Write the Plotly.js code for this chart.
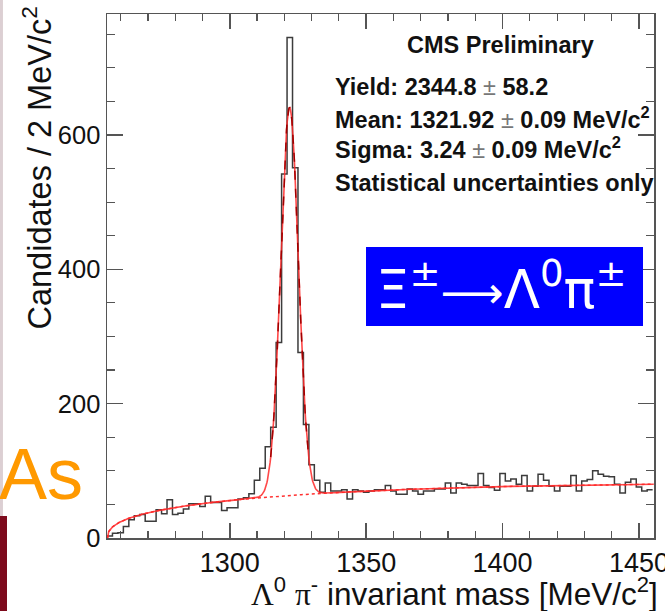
<!DOCTYPE html>
<html>
<head>
<meta charset="utf-8">
<script src="https://cdn.plot.ly/plotly-3.0.1.min.js"></script>
<style>html,body{margin:0;padding:0;background:#fff;}</style>
</head>
<body>
<div id="chart" style="width:665px;height:611px;"></div>
<script>
// Λπ invariant-mass histogram, 2 MeV/c² bins starting at 1255 MeV/c²
const binLow = 1255;
const binWidth = 2;
const counts = [
  3, 7, 8, 17, 27, 33, 35, 25, 25, 42,
  36, 57, 35, 37, 43, 51, 51, 47, 62, 53,
  53, 41, 45, 45, 58, 60, 66, 86, 104, 136,
  165, 291, 542, 745, 551, 276, 169, 109, 86, 68,
  82, 70, 70, 72, 58, 72, 70, 68, 70, 72,
  72, 78, 70, 65, 65, 73, 70, 65, 70, 70,
  73, 73, 82, 67, 82, 80, 78, 78, 96, 78,
  75, 71, 96, 85, 88, 80, 93, 70, 77, 95,
  86, 77, 70, 77, 77, 93, 70, 85, 87, 100,
  95, 92, 91, 80, 67, 83, 88, 76, 70, 72
];

// Fit result: Gaussian signal + threshold background
const fitYield = 2344.8;
const fitMean = 1321.92;
const fitSigma = 3.24;
const massThreshold = 1255.2;
const bkgNorm = 12.97;
const bkgPower = 0.4024;
const bkgSlope = 0.00156;

const massMin = 1255, massMax = 1455.5;

function background(m) {
  const d = m - massThreshold;
  if (d <= 0) return 0;
  return bkgNorm * Math.pow(d, bkgPower) * Math.exp(-bkgSlope * d);
}
function signal(m) {
  const z = (m - fitMean) / fitSigma;
  return fitYield * binWidth / (Math.sqrt(2 * Math.PI) * fitSigma) * Math.exp(-0.5 * z * z);
}

// histogram outline as a step line over bin edges
const edges = counts.map((_, i) => binLow + i * binWidth);
edges.push(binLow + counts.length * binWidth);
const stepY = counts.concat([counts[counts.length - 1]]);

const fitX = [], fitTotal = [], fitBkg = [];
for (let m = massThreshold; m <= massMax + 1e-9; m += 0.2) {
  fitX.push(m);
  fitBkg.push(background(m));
  fitTotal.push(background(m) + signal(m));
}
const peakX = [], peakY = [];
fitX.forEach((m, i) => { if (m >= 1315 && m <= 1329) { peakX.push(m); peakY.push(fitTotal[i]); } });

const traces = [
  { x: edges, y: stepY, type: 'scatter', mode: 'lines',
    line: { shape: 'hv', color: '#3c3c3c', width: 1.5 }, hoverinfo: 'skip' },
  { x: fitX, y: fitBkg, type: 'scatter', mode: 'lines',
    line: { color: '#ff3030', width: 1.5, dash: 'dot' }, hoverinfo: 'skip' },
  { x: fitX, y: fitTotal, type: 'scatter', mode: 'lines',
    line: { color: 'rgba(255,40,40,0.85)', width: 1.6 }, hoverinfo: 'skip' },
  { x: peakX, y: peakY, type: 'scatter', mode: 'lines',
    line: { color: '#a00000', width: 1.5, dash: 'dash' }, hoverinfo: 'skip' }
];

const axisCommon = {
  showline: true, linecolor: '#555', linewidth: 1.5, mirror: 'allticks',
  ticks: 'inside', tickcolor: '#555', tickwidth: 1.5,
  showgrid: false, zeroline: false, ticklabeloverflow: 'allow'
};

const txtFont = { family: 'Liberation Sans, Arial, sans-serif', size: 23.5, color: '#111' };
const pm = '<span style="font-weight:normal;color:#777">±</span>';

const layout = {
  width: 665, height: 611,
  margin: { l: 107, r: 11, t: 14, b: 73 },
  paper_bgcolor: '#fff', plot_bgcolor: '#fff',
  showlegend: false,
  xaxis: Object.assign({}, axisCommon, {
    range: [massMin, massMax], tick0: 1250, dtick: 50, ticklen: 15,
    tickfont: { family: 'Liberation Sans, Arial, sans-serif', size: 27, color: '#111' },
    minor: { dtick: 10, ticks: 'inside', ticklen: 7, tickcolor: '#555', tickwidth: 1.2 }
  }),
  yaxis: Object.assign({}, axisCommon, {
    range: [0, 780], tick0: 0, dtick: 200, ticklen: 16,
    tickfont: { family: 'Liberation Sans, Arial, sans-serif', size: 25.5, color: '#111' },
    minor: { dtick: 50, ticks: 'inside', ticklen: 8, tickcolor: '#555', tickwidth: 1.2 }
  }),
  shapes: [
    { type: 'rect', xref: 'paper', yref: 'paper', x0: -0.1956, x1: -0.1902, y0: 0.042, y1: 1.03,
      fillcolor: '#dccfd3', line: { width: 0 } },
    { type: 'rect', xref: 'paper', yref: 'paper', x0: -0.1956, x1: -0.1828, y0: -0.14, y1: 0.042,
      fillcolor: '#7d0a1c', line: { width: 0 } },
    { type: 'rect', xref: 'paper', yref: 'paper', x0: 0.4735, x1: 0.9799, y0: 0.4046, y1: 0.5553,
      fillcolor: '#0000ff', line: { width: 0 } }
  ],
  annotations: [
    { xref: 'paper', yref: 'paper', x: -0.128, y: 1.019, xanchor: 'center', yanchor: 'top',
      textangle: -90, showarrow: false,
      text: 'Candidates / 2 MeV/c<sup>2</sup>',
      font: { family: 'Liberation Sans, Arial, sans-serif', size: 32.5, color: '#111' } },
    { xref: 'paper', yref: 'paper', x: 1.011, y: -0.103, xanchor: 'right', yanchor: 'middle',
      showarrow: false,
      text: '<span style="font-family:Liberation Serif">Λ</span><sup>0</sup> <span style="font-family:Liberation Serif">π</span><sup>-</sup> invariant mass [MeV/c<sup>2</sup>]',
      font: { family: 'Liberation Sans, Arial, sans-serif', size: 31.5, color: '#111' } },
    { xref: 'paper', yref: 'paper', x: 0.7185, y: 0.9408, xanchor: 'center', yanchor: 'middle',
      showarrow: false, text: '<b>CMS Preliminary</b>', font: txtFont },
    { xref: 'paper', yref: 'paper', x: 0.4132, y: 0.8607, xanchor: 'left', yanchor: 'middle',
      showarrow: false, text: '<b>Yield: 2344.8 </b>' + pm + '<b> 58.2</b>', font: txtFont },
    { xref: 'paper', yref: 'paper', x: 0.4132, y: 0.8015, xanchor: 'left', yanchor: 'middle',
      showarrow: false, text: '<b>Mean: 1321.92 </b>' + pm + '<b> 0.09 MeV/c<sup>2</sup></b>', font: txtFont },
    { xref: 'paper', yref: 'paper', x: 0.4132, y: 0.7443, xanchor: 'left', yanchor: 'middle',
      showarrow: false, text: '<b>Sigma: 3.24 </b>' + pm + '<b> 0.09 MeV/c<sup>2</sup></b>', font: txtFont },
    { xref: 'paper', yref: 'paper', x: 0.4132, y: 0.6775, xanchor: 'left', yanchor: 'middle',
      showarrow: false, text: '<b>Statistical uncertainties only</b>', font: txtFont },
    { xref: 'paper', yref: 'paper', x: 0.7221, y: 0.481, xanchor: 'center', yanchor: 'middle',
      showarrow: false,
      text: 'Ξ<sup>±</sup><span style="font-size:44px">⟶</span>Λ<sup>0</sup>π<sup>±</sup>',
      font: { family: 'DejaVu Sans, sans-serif', size: 53, color: '#ffffff' } },
    { xref: 'paper', yref: 'paper', x: -0.2011, y: 0.122, xanchor: 'left', yanchor: 'middle',
      showarrow: false, text: 'As',
      font: { family: 'Liberation Sans, Arial, sans-serif', size: 72, color: '#ff9900' } }
  ]
};

Plotly.newPlot('chart', traces, layout, { displayModeBar: false, staticPlot: true });
</script>
</body>
</html>
